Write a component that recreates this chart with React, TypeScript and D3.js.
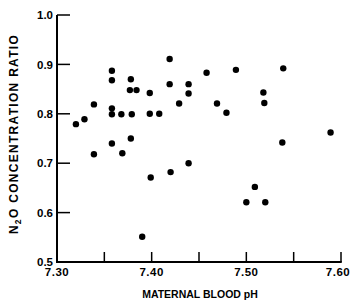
import React from 'react';
import * as d3 from 'd3';

const width = 352;
const height = 302;
const margin = { top: 15, right: 11, bottom: 40, left: 57 };

// maternal blood pH, N2O concentration ratio
const ph = [
  7.320, 7.329, 7.339, 7.339, 7.358, 7.358, 7.358, 7.358, 7.358, 7.368,
  7.369, 7.378, 7.377, 7.384, 7.379, 7.378, 7.398, 7.398, 7.399, 7.390,
  7.408, 7.419, 7.419, 7.420, 7.429, 7.439, 7.439, 7.439, 7.458, 7.469,
  7.479, 7.489, 7.500, 7.509, 7.520, 7.518, 7.519, 7.539, 7.538, 7.589,
];
const ratio = [
  0.779, 0.789, 0.819, 0.718, 0.887, 0.868, 0.811, 0.799, 0.740, 0.799,
  0.720, 0.870, 0.848, 0.848, 0.799, 0.750, 0.842, 0.800, 0.671, 0.551,
  0.800, 0.911, 0.860, 0.682, 0.821, 0.860, 0.841, 0.700, 0.883, 0.821,
  0.802, 0.889, 0.621, 0.652, 0.621, 0.843, 0.822, 0.892, 0.742, 0.762,
];

const xTicks = [7.30, 7.35, 7.40, 7.45, 7.50, 7.55, 7.60];
const xLabels = ['7.30', '7.40', '7.50', '7.60'];
const yTicks = [0.5, 0.6, 0.7, 0.8, 0.9, 1.0];

const font = "'Liberation Sans', Arial, sans-serif";

export default function App() {
  const x = d3.scaleLinear().domain([7.30, 7.60]).range([margin.left, width - margin.right]);
  const y = d3.scaleLinear().domain([0.5, 1.0]).range([height - margin.bottom, margin.top]);
  const x0 = x(7.30);
  const y0 = y(0.5);

  return (
    <svg
      width={width}
      height={height}
      style={{ position: 'absolute', left: 0, top: 0, background: '#fff' }}
      fontFamily={font}
    >
      {/* axes */}
      <line x1={x0} x2={x0} y1={y(1.0)} y2={y0 + 1} stroke="#000" strokeWidth={2} />
      <line x1={x0 - 1} x2={x(7.60) + 0.75} y1={y0} y2={y0} stroke="#000" strokeWidth={2} />

      {yTicks.map((t) => (
        <g key={'y' + t}>
          <line x1={x0} x2={x0 + 13} y1={y(t)} y2={y(t)} stroke="#000" strokeWidth={1.5} />
          <text x={x0 - 4} y={y(t)} dy="0.36em" textAnchor="end" fontSize={11.5} fontWeight="bold">
            {t.toFixed(1)}
          </text>
        </g>
      ))}

      {xTicks.slice(1).map((t) => (
        <line key={'x' + t} x1={x(t)} x2={x(t)} y1={y0} y2={y0 - 10} stroke="#000" strokeWidth={1.5} />
      ))}
      {xLabels.map((l) => (
        <text
          key={l}
          x={Math.min(x(+l), width - 14)}
          y={y0 + 14}
          textAnchor="middle"
          fontSize={11.5}
          fontWeight="bold"
          letterSpacing={0.5}
        >
          {l}
        </text>
      ))}

      {/* points */}
      {ph.map((p, i) => (
        <circle key={i} cx={x(p)} cy={y(ratio[i])} r={3.2} fill="#000" />
      ))}

      {/* titles */}
      <text x={200} y={298} textAnchor="middle" fontSize={10.5} fontWeight="bold">
        MATERNAL BLOOD pH
      </text>
      <text
        transform={`translate(18,134) rotate(-90)`}
        textAnchor="middle"
        fontSize={12}
        fontWeight="bold"
        letterSpacing={1.3}
      >
        N<tspan fontSize={8.5} dy={3}>2</tspan><tspan dy={-3}>O CONCENTRATION RATIO</tspan>
      </text>
    </svg>
  );
}
